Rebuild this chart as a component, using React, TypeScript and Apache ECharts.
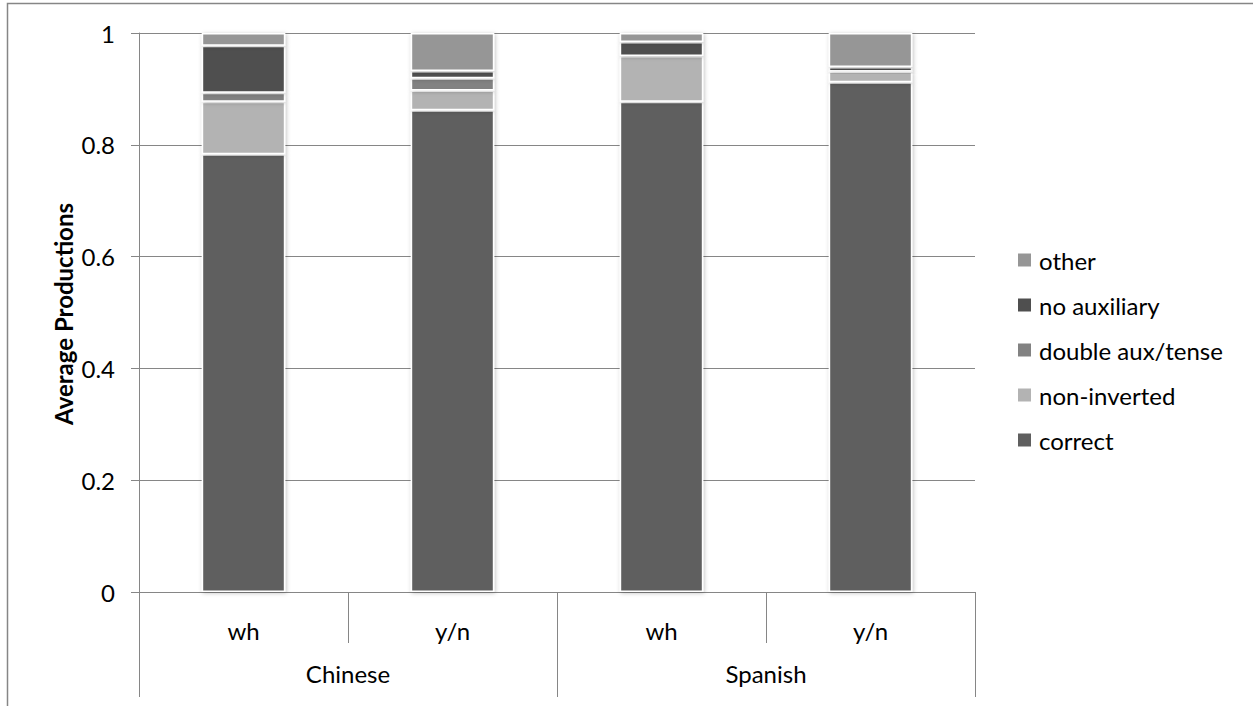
import React, { useEffect, useRef } from "react";
import * as echarts from "echarts";

const subCategories = ["wh", "y/n", "wh", "y/n"];
const groups = ["Chinese", "Spanish"];
const seriesNames = ["correct", "non-inverted", "double aux/tense", "no auxiliary", "other"];
const correct = [0.783, 0.862, 0.877, 0.912];
const nonInverted = [0.094, 0.035, 0.082, 0.019];
const doubleAux = [0.016, 0.022, 0.0, 0.0];
const noAuxiliary = [0.084, 0.013, 0.025, 0.008];
const other = [0.023, 0.068, 0.016, 0.061];
const colors = ["#5f5f5f", "#b3b3b3", "#828282", "#4f4f4f", "#969696"];
const legendOrder = ["other", "no auxiliary", "double aux/tense", "non-inverted", "correct"];

const FONT = "Lato";

export default function App() {
  const ref = useRef<HTMLDivElement>(null);
  useEffect(() => {
    if (!ref.current) return;
    const chart = echarts.init(ref.current, null, { renderer: "svg" });
    const values = [correct, nonInverted, doubleAux, noAuxiliary, other];
    chart.setOption({
      animation: false,
      backgroundColor: "#ffffff",
      textStyle: { fontFamily: FONT },
      grid: { left: 139, right: 278, top: 33, bottom: 114, containLabel: false },
      legend: {
        orient: "vertical",
        left: 1013,
        top: 243,
        itemWidth: 13,
        itemHeight: 13,
        itemGap: 21,
        icon: "rect",
        data: legendOrder,
        itemStyle: { borderWidth: 0, shadowBlur: 0 },
        textStyle: { fontSize: 24, lineHeight: 24, color: "#000", fontFamily: FONT, padding: [0, 0, 0, 3] },
      },
      xAxis: [
        {
          type: "category",
          data: subCategories,
          position: "bottom",
          axisLine: { show: true, lineStyle: { color: "#868686", width: 1 } },
          axisTick: { show: true, length: 51, lineStyle: { color: "#868686" } },
          axisLabel: { margin: 26, fontSize: 24, color: "#000", fontFamily: FONT },
        },
        {
          type: "category",
          data: groups,
          position: "bottom",
          axisLine: { show: false },
          axisTick: { show: true, length: 105, lineStyle: { color: "#868686" } },
          axisLabel: { margin: 69, fontSize: 24, color: "#000", fontFamily: FONT },
        },
      ],
      yAxis: {
        type: "value",
        min: 0,
        max: 1,
        interval: 0.2,
        axisLine: { show: true, lineStyle: { color: "#868686" } },
        axisTick: { show: true, length: 8, lineStyle: { color: "#868686" } },
        splitLine: { show: true, lineStyle: { color: "#868686", width: 1 } },
        axisLabel: { margin: 24, fontSize: 24, color: "#000", fontFamily: FONT },
      },
      series: seriesNames.map((name, i) => ({
        name,
        type: "bar",
        stack: "total",
        xAxisIndex: 0,
        barWidth: "40%",
        data: values[i],
        itemStyle: {
          color: colors[i],
          borderColor: "#ffffff",
          borderWidth: 1.5,
          shadowBlur: 4,
          shadowColor: "rgba(0,0,0,0.25)",
          shadowOffsetX: 1,
          shadowOffsetY: 1,
        },
      })),
      graphic: [
        {
          type: "rect",
          shape: { x: 7.5, y: 3.5, width: 2000, height: 2000 },
          style: { fill: "none", stroke: "#868686", lineWidth: 1.5 },
          silent: true,
        },
        {
          type: "text",
          x: 63,
          y: 314,
          rotation: Math.PI / 2,
          style: {
            text: "Average Productions",
            font: `bold 24px ${FONT}`,
            fill: "#000",
            textAlign: "center",
            textVerticalAlign: "middle",
          },
        },
      ],
    });
    return () => chart.dispose();
  }, []);
  return (
    <div
      ref={ref}
      style={{ position: "fixed", left: 0, top: 0, width: 1253, height: 706 }}
    />
  );
}
